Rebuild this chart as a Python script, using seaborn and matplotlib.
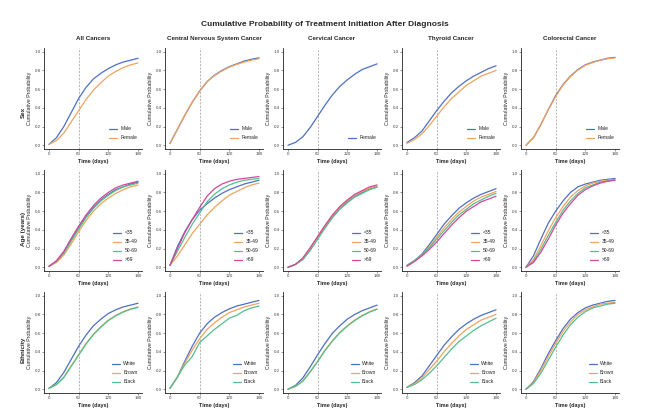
import numpy as np
import matplotlib.pyplot as plt
import seaborn as sns
import pandas as pd

sns.set_theme(style="ticks")
plt.rcParams['font.family'] = ['Liberation Sans', 'DejaVu Sans']

days = [0, 15, 30, 45, 60, 75, 90, 105, 120, 135, 150, 165, 180]

cancers = ["All Cancers", "Central Nervous System Cancer", "Cervical Cancer",
           "Thyroid Cancer", "Colorectal Cancer"]
factors = ["Sex", "Age (years)", "Ethnicity"]
sex_groups = ["Male", "Female"]
age_groups = ["<35", "35-49", "50-69", ">69"]
eth_groups = ["White", "Brown", "Black"]

# ---- Sex ----
all_male = [0.01, 0.08, 0.20, 0.35, 0.50, 0.62, 0.71, 0.77, 0.82, 0.86, 0.89, 0.91, 0.93]
all_female = [0.01, 0.05, 0.13, 0.25, 0.37, 0.49, 0.59, 0.67, 0.74, 0.79, 0.83, 0.86, 0.88]
cns_male = [0.02, 0.17, 0.32, 0.46, 0.58, 0.68, 0.75, 0.80, 0.84, 0.87, 0.90, 0.92, 0.935]
cns_female = [0.02, 0.17, 0.32, 0.46, 0.58, 0.68, 0.745, 0.795, 0.835, 0.865, 0.89, 0.91, 0.925]
cerv_female = [0.00, 0.03, 0.09, 0.19, 0.31, 0.43, 0.54, 0.63, 0.70, 0.76, 0.81, 0.84, 0.87]
thy_male = [0.03, 0.08, 0.15, 0.26, 0.37, 0.47, 0.56, 0.63, 0.69, 0.74, 0.78, 0.82, 0.85]
thy_female = [0.02, 0.06, 0.12, 0.21, 0.31, 0.41, 0.50, 0.57, 0.64, 0.69, 0.74, 0.77, 0.80]
col_male = [0.00, 0.08, 0.22, 0.38, 0.53, 0.65, 0.74, 0.81, 0.86, 0.89, 0.91, 0.93, 0.94]
col_female = [0.00, 0.08, 0.22, 0.38, 0.52, 0.645, 0.735, 0.805, 0.855, 0.885, 0.91, 0.925, 0.935]

# ---- Age ----
all_lt35 = [0.01, 0.06, 0.16, 0.29, 0.42, 0.54, 0.64, 0.72, 0.78, 0.83, 0.86, 0.89, 0.91]
all_35_49 = [0.01, 0.05, 0.13, 0.25, 0.38, 0.50, 0.60, 0.68, 0.74, 0.79, 0.83, 0.86, 0.88]
all_50_69 = [0.01, 0.06, 0.15, 0.28, 0.41, 0.53, 0.63, 0.71, 0.77, 0.82, 0.86, 0.88, 0.90]
all_gt69 = [0.01, 0.07, 0.17, 0.31, 0.44, 0.56, 0.66, 0.74, 0.80, 0.85, 0.88, 0.90, 0.92]
cns_lt35 = [0.02, 0.22, 0.38, 0.51, 0.61, 0.68, 0.74, 0.79, 0.83, 0.86, 0.89, 0.91, 0.93]
cns_35_49 = [0.02, 0.12, 0.24, 0.36, 0.46, 0.56, 0.64, 0.71, 0.77, 0.81, 0.85, 0.88, 0.90]
cns_50_69 = [0.02, 0.17, 0.32, 0.46, 0.58, 0.70, 0.78, 0.84, 0.88, 0.91, 0.93, 0.94, 0.95]
cns_gt69 = [0.02, 0.20, 0.37, 0.51, 0.64, 0.76, 0.84, 0.89, 0.92, 0.94, 0.95, 0.96, 0.97]
cerv_lt35 = [0.00, 0.03, 0.09, 0.19, 0.31, 0.43, 0.54, 0.63, 0.70, 0.76, 0.80, 0.84, 0.86]
cerv_35_49 = [0.00, 0.03, 0.09, 0.19, 0.32, 0.44, 0.55, 0.64, 0.71, 0.77, 0.81, 0.845, 0.87]
cerv_50_69 = [0.00, 0.03, 0.08, 0.18, 0.30, 0.42, 0.53, 0.62, 0.69, 0.75, 0.79, 0.83, 0.855]
cerv_gt69 = [0.00, 0.03, 0.10, 0.21, 0.33, 0.45, 0.56, 0.65, 0.72, 0.78, 0.82, 0.86, 0.88]
thy_lt35 = [0.02, 0.07, 0.14, 0.24, 0.35, 0.46, 0.55, 0.63, 0.69, 0.74, 0.78, 0.81, 0.84]
thy_35_49 = [0.02, 0.07, 0.13, 0.22, 0.32, 0.42, 0.51, 0.59, 0.65, 0.71, 0.75, 0.78, 0.81]
thy_50_69 = [0.02, 0.07, 0.13, 0.21, 0.30, 0.39, 0.48, 0.56, 0.62, 0.68, 0.72, 0.76, 0.79]
thy_gt69 = [0.01, 0.06, 0.12, 0.19, 0.27, 0.36, 0.45, 0.53, 0.60, 0.65, 0.70, 0.73, 0.76]
col_lt35 = [0.00, 0.12, 0.30, 0.47, 0.60, 0.71, 0.80, 0.86, 0.89, 0.91, 0.93, 0.94, 0.95]
col_35_49 = [0.00, 0.08, 0.23, 0.39, 0.53, 0.65, 0.75, 0.82, 0.87, 0.90, 0.92, 0.93, 0.94]
col_50_69 = [0.00, 0.06, 0.19, 0.34, 0.48, 0.61, 0.71, 0.79, 0.85, 0.88, 0.91, 0.92, 0.935]
col_gt69 = [0.00, 0.05, 0.16, 0.30, 0.45, 0.58, 0.68, 0.77, 0.83, 0.87, 0.90, 0.92, 0.93]

# ---- Ethnicity ----
all_white = [0.01, 0.07, 0.18, 0.32, 0.46, 0.58, 0.68, 0.75, 0.81, 0.85, 0.88, 0.90, 0.92]
all_brown = [0.01, 0.05, 0.13, 0.25, 0.37, 0.49, 0.59, 0.67, 0.74, 0.79, 0.83, 0.86, 0.88]
all_black = [0.01, 0.05, 0.125, 0.245, 0.365, 0.485, 0.585, 0.665, 0.735, 0.785, 0.825, 0.855, 0.875]
cns_white = [0.01, 0.13, 0.30, 0.46, 0.60, 0.70, 0.77, 0.82, 0.86, 0.89, 0.91, 0.93, 0.95]
cns_brown = [0.01, 0.13, 0.28, 0.42, 0.54, 0.64, 0.71, 0.77, 0.82, 0.85, 0.88, 0.90, 0.92]
cns_black = [0.01, 0.13, 0.26, 0.35, 0.50, 0.57, 0.64, 0.70, 0.76, 0.79, 0.84, 0.87, 0.89]
cerv_white = [0.00, 0.04, 0.12, 0.24, 0.37, 0.49, 0.60, 0.68, 0.75, 0.80, 0.84, 0.87, 0.90]
cerv_brown = [0.00, 0.03, 0.09, 0.19, 0.30, 0.42, 0.52, 0.61, 0.68, 0.74, 0.79, 0.83, 0.86]
cerv_black = [0.00, 0.03, 0.085, 0.185, 0.295, 0.415, 0.515, 0.605, 0.675, 0.735, 0.785, 0.825, 0.855]
thy_white = [0.02, 0.07, 0.14, 0.25, 0.36, 0.47, 0.56, 0.64, 0.70, 0.75, 0.79, 0.82, 0.85]
thy_brown = [0.02, 0.06, 0.12, 0.21, 0.30, 0.40, 0.49, 0.57, 0.64, 0.69, 0.74, 0.77, 0.80]
thy_black = [0.02, 0.05, 0.10, 0.17, 0.25, 0.34, 0.43, 0.51, 0.57, 0.63, 0.68, 0.72, 0.76]
col_white = [0.00, 0.08, 0.22, 0.38, 0.52, 0.65, 0.75, 0.82, 0.87, 0.90, 0.92, 0.94, 0.95]
col_brown = [0.00, 0.07, 0.20, 0.35, 0.49, 0.62, 0.72, 0.80, 0.85, 0.88, 0.91, 0.92, 0.93]
col_black = [0.00, 0.06, 0.17, 0.31, 0.45, 0.58, 0.69, 0.77, 0.83, 0.87, 0.89, 0.91, 0.92]

curves = {
    ("All Cancers", "Sex"): {"Male": all_male, "Female": all_female},
    ("Central Nervous System Cancer", "Sex"): {"Male": cns_male, "Female": cns_female},
    ("Cervical Cancer", "Sex"): {"Female": cerv_female},
    ("Thyroid Cancer", "Sex"): {"Male": thy_male, "Female": thy_female},
    ("Colorectal Cancer", "Sex"): {"Male": col_male, "Female": col_female},
    ("All Cancers", "Age (years)"): {"<35": all_lt35, "35-49": all_35_49, "50-69": all_50_69, ">69": all_gt69},
    ("Central Nervous System Cancer", "Age (years)"): {"<35": cns_lt35, "35-49": cns_35_49, "50-69": cns_50_69, ">69": cns_gt69},
    ("Cervical Cancer", "Age (years)"): {"<35": cerv_lt35, "35-49": cerv_35_49, "50-69": cerv_50_69, ">69": cerv_gt69},
    ("Thyroid Cancer", "Age (years)"): {"<35": thy_lt35, "35-49": thy_35_49, "50-69": thy_50_69, ">69": thy_gt69},
    ("Colorectal Cancer", "Age (years)"): {"<35": col_lt35, "35-49": col_35_49, "50-69": col_50_69, ">69": col_gt69},
    ("All Cancers", "Ethnicity"): {"White": all_white, "Brown": all_brown, "Black": all_black},
    ("Central Nervous System Cancer", "Ethnicity"): {"White": cns_white, "Brown": cns_brown, "Black": cns_black},
    ("Cervical Cancer", "Ethnicity"): {"White": cerv_white, "Brown": cerv_brown, "Black": cerv_black},
    ("Thyroid Cancer", "Ethnicity"): {"White": thy_white, "Brown": thy_brown, "Black": thy_black},
    ("Colorectal Cancer", "Ethnicity"): {"White": col_white, "Brown": col_brown, "Black": col_black},
}

records = []
for (cancer, factor), groups in curves.items():
    for grp, vals in groups.items():
        for d, p in zip(days, vals):
            records.append({"cancer": cancer, "factor": factor, "group": grp, "day": d, "prob": p})
df = pd.DataFrame(records)

# colours go to the groups present in a panel, in order
colors = ["#4e6fc4", "#f0a35e", "#52c08c", "#d6469a"]
order = {"Sex": sex_groups, "Age (years)": age_groups, "Ethnicity": eth_groups}

fig = plt.figure(figsize=(6.5, 4.2), dpi=100)
W, H = 650, 420
col_left = [44, 165, 283, 402, 521]
row_top = [48, 170, 292]
aw, ah = 98, 101
row_label_y = [112, 229, 350]

for r, factor in enumerate(factors):
    for c, cancer in enumerate(cancers):
        ax = fig.add_axes([col_left[c] / W, 1 - (row_top[r] + ah) / H, aw / W, ah / H])
        sub = df[(df.cancer == cancer) & (df.factor == factor)]
        hue_order = [g for g in order[factor] if g in sub.group.unique()]
        ax.axvline(60, color="#999999", ls=(0, (3, 2)), lw=0.5, zorder=0)
        sns.lineplot(data=sub, x="day", y="prob", hue="group", hue_order=hue_order,
                     palette=colors[:len(hue_order)], lw=0.9, estimator=None, ax=ax)
        handles, labels = ax.get_legend_handles_labels()
        ax.legend(handles, labels, loc="lower right", bbox_to_anchor=(1.0, 0.04),
                  frameon=False, fontsize=3.6, handlelength=1.6, handletextpad=0.7,
                  labelspacing=0.8)
        ax.set_xlim(-10, 188)
        ax.set_ylim(-0.04, 1.04)
        ax.set_xticks([0, 60, 120, 180])
        ax.set_yticks([0, 0.2, 0.4, 0.6, 0.8, 1.0])
        ax.set_yticklabels(["0.0", "0.2", "0.4", "0.6", "0.8", "1.0"])
        ax.tick_params(labelsize=3.2, length=1.5, width=0.4, pad=1, colors="#444444")
        ax.set_xlabel("Time (days)", fontsize=4.0, fontweight="bold", labelpad=1.5)
        ax.set_ylabel("Cumulative Probability", fontsize=3.8, labelpad=1.5)
        for s in ["top", "right"]:
            ax.spines[s].set_visible(False)
        for s in ["left", "bottom"]:
            ax.spines[s].set_linewidth(0.6)
            ax.spines[s].set_color("#222222")
        if r == 0:
            ax.set_title(cancer, fontsize=4.5, fontweight="bold", pad=6)
    fig.text(23 / W, 1 - row_label_y[r] / H, factor, rotation=90, fontsize=4.5,
             fontweight="bold", ha="center", va="center")

fig.suptitle("Cumulative Probability of Treatment Initiation After Diagnosis",
             y=1 - 25 / H, fontsize=6.0, fontweight="bold", va="center")

fig.savefig("out.png", dpi=100, facecolor="white")
